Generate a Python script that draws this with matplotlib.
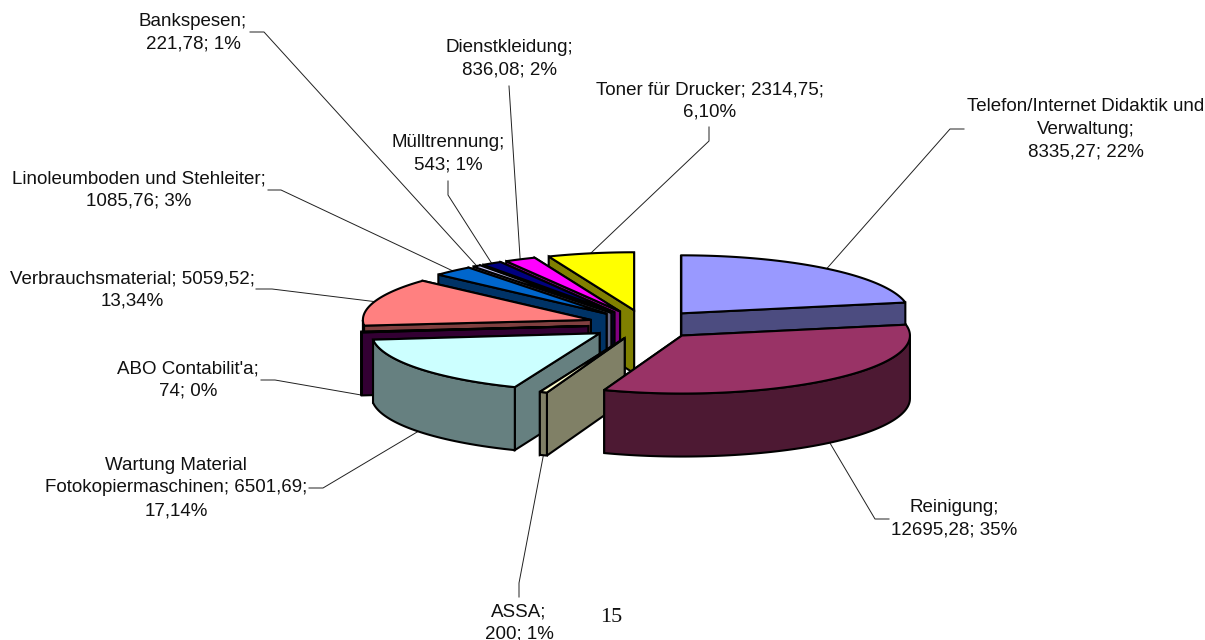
import numpy as np
import matplotlib
matplotlib.use('Agg')
import matplotlib.pyplot as plt
from matplotlib.patches import Polygon

plt.rcParams['font.family'] = ['Liberation Sans', 'DejaVu Sans']

# clockwise from 12 o'clock
names = ['Telefon', 'Reinigung', 'ASSA', 'Wartung', 'ABO', 'Verbrauch',
         'Linoleum', 'Bank', 'Muell', 'Dienst', 'Toner']
values = [8335.27, 12695.28, 200, 6501.69, 74, 5059.52,
          1085.76, 221.78, 543, 836.08, 2314.75]
labels = ['Telefon/Internet Didaktik und\nVerwaltung;\n8335,27; 22%',
          'Reinigung;\n12695,28; 35%',
          'ASSA;\n200; 1%',
          'Wartung Material\nFotokopiermaschinen; 6501,69;\n17,14%',
          "ABO Contabilit'a;\n74; 0%",
          'Verbrauchsmaterial; 5059,52;\n13,34%',
          'Linoleumboden und Stehleiter;\n1085,76; 3%',
          'Bankspesen;\n221,78; 1%',
          'Mülltrennung;\n543; 1%',
          'Dienstkleidung;\n836,08; 2%',
          'Toner für Drucker; 2314,75;\n6,10%']
top_colors = ['#9999FF', '#993366', '#FFFFCC', '#CCFFFF', '#660066', '#FF8080',
              '#0066CC', '#CCCCFF', '#000080', '#FF00FF', '#FFFF00']
side_colors = ['#4C4C80', '#4D1933', '#808066', '#668080', '#330033', '#804040',
               '#003366', '#666680', '#000040', '#800080', '#808000']

# pie geometry in image pixels
cx, cy = 645, 324.5
rx, ry = 228, 58
depth = 63
explode = 0.25

# back to front
draw_order = [10, 9, 8, 7, 6, 0, 5, 4, 3, 2, 1]

# label centre (x, y of block) and the two leader points next to the label
label_pos = [(1086, 129), (954, 519), (519, 623), (176, 488), (188, 380),
             (132, 290), (139, 190), (193, 33), (448, 154), (509, 59), (710, 101)]
leader_pts = [[(964, 129), (950, 129)],
              [(889, 519), (875, 519)],
              [(519, 597), (519, 583)],
              [(309, 488), (323, 488)],
              [(261, 380), (275, 380)],
              [(256, 289), (272, 289)],
              [(268, 190), (281, 190)],
              [(250, 32), (264, 32)],
              [(448, 181), (448, 195)],
              [(509, 86)],
              [(709, 127), (709, 141)]]

angles = np.cumsum([0] + values) / sum(values) * 2 * np.pi


def rim(ax0, ay0, a):
    return ax0 + rx * np.sin(a), ay0 - ry * np.cos(a)


def add_poly(ax, x, y, color):
    ax.add_patch(Polygon(np.column_stack([x, y]), closed=True, facecolor=color,
                         edgecolor='black', linewidth=1.5, zorder=3))


fig = plt.figure(figsize=(12.05, 6.4), dpi=100)
ax = fig.add_axes([0, 0, 1, 1])
ax.set_xlim(0, 1205)
ax.set_ylim(640, 0)
ax.axis('off')

# leaders go under the pie
for i in range(len(values)):
    mid = (angles[i] + angles[i + 1]) / 2
    ox = cx + explode * rx * np.sin(mid)
    oy = cy - explode * ry * np.cos(mid)
    ex, ey = rim(ox, oy, mid)
    if np.cos(mid) < 0:
        ey += depth
    pts = leader_pts[i] + [(ex, ey)]
    ax.plot([p[0] for p in pts], [p[1] for p in pts], color='#202020', lw=0.7, zorder=1)
    ax.text(label_pos[i][0], label_pos[i][1], labels[i], ha='center', va='center',
            fontsize=13.5, linespacing=1.43, color='#111111', zorder=5)

for i in draw_order:
    a0, a1 = angles[i], angles[i + 1]
    mid = (a0 + a1) / 2
    ox = cx + explode * rx * np.sin(mid)
    oy = cy - explode * ry * np.cos(mid)

    # cut faces, the one further back first
    for a in sorted([a0, a1], key=lambda t: -np.cos(t)):
        x, y = rim(ox, oy, a)
        add_poly(ax, [ox, x, x, ox], [oy, y, y + depth, oy + depth], side_colors[i])

    # outer wall, only the part facing the viewer
    lo, hi = max(a0, np.pi / 2), min(a1, 3 * np.pi / 2)
    if hi > lo:
        t = np.linspace(lo, hi, 80)
        x, y = rim(ox, oy, t)
        add_poly(ax, np.r_[x, x[::-1]], np.r_[y, y[::-1] + depth], side_colors[i])

    # top
    t = np.linspace(a0, a1, 120)
    x, y = rim(ox, oy, t)
    add_poly(ax, np.r_[ox, x], np.r_[oy, y], top_colors[i])

ax.text(611, 618, '15', ha='center', va='center', fontsize=16,
        family='Liberation Serif', color='#111111')

fig.savefig('out.png', dpi=100)
